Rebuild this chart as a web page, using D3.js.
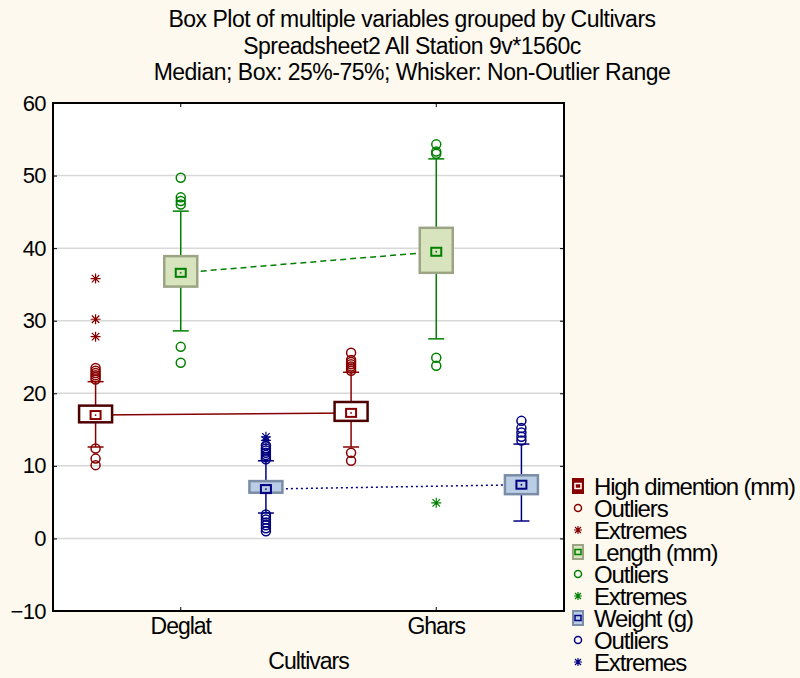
<!DOCTYPE html>
<html>
<head>
<meta charset="utf-8">
<script src="https://cdn.jsdelivr.net/npm/d3@7"></script>
<style>
  body { margin: 0; background: #fdf9ef; }
  svg { display: block; font-family: "Liberation Sans", Arial, sans-serif; }
</style>
</head>
<body>
<svg id="chart" width="800" height="678"></svg>
<script>
// groups and variables
const cultivars = ["Deglat", "Ghars"];
const variables = ["High dimention (mm)", "Length (mm)", "Weight (g)"];

// box stats, one row per variable, one value per cultivar
const medians = [[17.0, 17.3], [36.6, 39.5], [6.8, 7.4]];
const q1s = [[16.0, 16.2], [34.7, 36.6], [6.3, 6.1]];
const q3s = [[18.3, 18.8], [38.9, 42.8], [7.9, 8.7]];
const whiskLow = [[12.6, 12.6], [28.6, 27.5], [3.5, 2.4]];
const whiskHigh = [[21.6, 22.9], [45.1, 52.3], [10.7, 13.0]];

const outliers = [
  [[21.9, 22.2, 22.5, 22.8, 23.1, 23.5, 12.4, 11.0, 10.1], [23.1, 23.4, 23.7, 24.0, 24.3, 24.6, 25.6, 11.8, 10.7]],
  [[46.0, 46.5, 47.0, 49.7, 26.4, 24.2], [53.0, 53.3, 54.3, 24.9, 23.8]],
  [[10.9, 11.2, 11.5, 11.8, 12.1, 12.4, 12.8, 3.3, 3.0, 2.6, 2.2, 1.8, 1.4, 1.0], [13.5, 14.0, 14.6, 15.2, 16.2]]
];
const extremes = [
  [[27.8, 30.2, 35.8], []],
  [[], [4.9]],
  [[13.5, 14.0], []]
];

const yTicks = [-10, 0, 10, 20, 30, 40, 50, 60];
const titleLines = [
  "Box Plot of multiple variables grouped by  Cultivars",
  "Spreadsheet2 All Station 9v*1560c",
  "Median; Box: 25%-75%; Whisker: Non-Outlier Range"
];

// colours per variable
const lineColors = ["#870000", "#008000", "#000080"];
const boxFills = ["#ffffff", "#d7e4bd", "#b9cde5"];
const boxStrokes = ["#4e0000", "#9ca484", "#7a8ca6"];
const medianDash = [null, "6,4", "2,3"];

const svg = d3.select("#chart");
const plotLeft = 53, plotRight = 564, plotTop = 103, plotBottom = 611;

const x = d3.scaleBand().domain(cultivars).range([plotLeft, plotRight]);
const xSub = d3.scaleBand().domain(variables).range([0, x.bandwidth()]);
const y = d3.scaleLinear().domain([-10, 60]).range([plotBottom, plotTop]);

const cx = (ci, vi) => x(cultivars[ci]) + xSub(variables[vi]) + xSub.bandwidth() / 2;

// plot area
svg.append("rect")
  .attr("x", plotLeft).attr("y", plotTop)
  .attr("width", plotRight - plotLeft).attr("height", plotBottom - plotTop)
  .attr("fill", "#fff");

// gridlines
svg.append("g").selectAll("line")
  .data(yTicks.filter(t => t > -10 && t < 60))
  .join("line")
  .attr("x1", plotLeft).attr("x2", plotRight)
  .attr("y1", d => y(d)).attr("y2", d => y(d))
  .attr("stroke", "#d8d8d8").attr("stroke-width", 1.5);

// axes
const yAxis = svg.append("g")
  .attr("transform", `translate(${plotLeft},0)`)
  .call(d3.axisLeft(y).tickValues(yTicks).tickSize(-4).tickPadding(7).tickSizeOuter(0));
yAxis.selectAll("text")
  .style("font-size", "22px").style("letter-spacing", "-0.6px").attr("fill", "#000");

svg.append("g")
  .attr("transform", `translate(${plotRight},0)`)
  .call(d3.axisRight(y).tickValues(yTicks).tickSize(-4).tickFormat("").tickSizeOuter(0));

const xAxis = svg.append("g")
  .attr("transform", `translate(0,${plotBottom})`)
  .call(d3.axisBottom(x).tickSize(-4).tickPadding(7).tickSizeOuter(0));
xAxis.selectAll("text")
  .style("font-size", "23px").style("letter-spacing", "-1px").attr("fill", "#000");

svg.append("g")
  .attr("transform", `translate(0,${plotTop})`)
  .call(d3.axisTop(x).tickSize(-4).tickFormat("").tickSizeOuter(0));

svg.selectAll(".domain").remove();
svg.selectAll(".tick line").attr("stroke", "#000");

// frame
svg.append("rect")
  .attr("x", plotLeft).attr("y", plotTop)
  .attr("width", plotRight - plotLeft).attr("height", plotBottom - plotTop)
  .attr("fill", "none").attr("stroke", "#000").attr("stroke-width", 2);

// median connecting lines
variables.forEach((v, vi) => {
  svg.append("path")
    .datum(cultivars.map((c, ci) => [cx(ci, vi), y(medians[vi][ci])]))
    .attr("d", d3.line())
    .attr("fill", "none")
    .attr("stroke", lineColors[vi])
    .attr("stroke-width", 1.5)
    .attr("stroke-dasharray", medianDash[vi]);
});

const boxW = 33, capW = 16;

function asterisk(px, py, s) {
  return `M${px - s},${py}H${px + s}M${px},${py - s}V${py + s}` +
    `M${px - s * 0.75},${py - s * 0.75}L${px + s * 0.75},${py + s * 0.75}` +
    `M${px - s * 0.75},${py + s * 0.75}L${px + s * 0.75},${py - s * 0.75}`;
}

variables.forEach((v, vi) => {
  cultivars.forEach((c, ci) => {
    const g = svg.append("g");
    const px = cx(ci, vi);
    const col = lineColors[vi];

    // whiskers
    g.append("line")
      .attr("x1", px).attr("x2", px)
      .attr("y1", y(whiskLow[vi][ci])).attr("y2", y(whiskHigh[vi][ci]))
      .attr("stroke", col).attr("stroke-width", 1.5);
    [whiskLow[vi][ci], whiskHigh[vi][ci]].forEach(w => {
      g.append("line")
        .attr("x1", px - capW / 2).attr("x2", px + capW / 2)
        .attr("y1", y(w)).attr("y2", y(w))
        .attr("stroke", col).attr("stroke-width", 1.5);
    });

    // box
    g.append("rect")
      .attr("x", px - boxW / 2).attr("y", y(q3s[vi][ci]))
      .attr("width", boxW).attr("height", y(q1s[vi][ci]) - y(q3s[vi][ci]))
      .attr("fill", boxFills[vi]).attr("stroke", boxStrokes[vi]).attr("stroke-width", 2.5);

    // median marker with centre dot
    const my = y(medians[vi][ci]);
    g.append("rect")
      .attr("x", px - 5).attr("y", my - 4).attr("width", 10).attr("height", 8)
      .attr("fill", "none").attr("stroke", col).attr("stroke-width", 2);
    g.append("circle")
      .attr("cx", px).attr("cy", my).attr("r", 0.9).attr("fill", col);

    // outliers
    g.selectAll("circle.out")
      .data(outliers[vi][ci])
      .join("circle")
      .attr("class", "out")
      .attr("cx", px).attr("cy", d => y(d)).attr("r", 4.5)
      .attr("fill", "none").attr("stroke", col).attr("stroke-width", 1.5);

    // extremes
    g.selectAll("path.ext")
      .data(extremes[vi][ci])
      .join("path")
      .attr("class", "ext")
      .attr("d", d => asterisk(px, y(d), 5))
      .attr("stroke", col).attr("stroke-width", 1.2).attr("fill", "none");
  });
});

// title
svg.append("g").selectAll("text")
  .data(titleLines)
  .join("text")
  .attr("x", 412).attr("y", (d, i) => 27 + i * 26.5)
  .attr("text-anchor", "middle")
  .style("font-size", "23px").style("letter-spacing", "-0.5px")
  .text(d => d);

// x axis title
svg.append("text")
  .attr("x", (plotLeft + plotRight) / 2).attr("y", 669)
  .attr("text-anchor", "middle")
  .style("font-size", "23px").style("letter-spacing", "-1px")
  .text("Cultivars");

// legend
const legendItems = [];
variables.forEach((v, vi) => {
  legendItems.push({ kind: "box", vi, label: v });
  legendItems.push({ kind: "out", vi, label: "Outliers" });
  legendItems.push({ kind: "ext", vi, label: "Extremes" });
});

const legend = svg.append("g").attr("transform", "translate(578,486)");
const rows = legend.selectAll("g")
  .data(legendItems)
  .join("g")
  .attr("transform", (d, i) => `translate(0,${i * 22})`);

rows.filter(d => d.kind === "box").each(function (d) {
  const r = d3.select(this);
  r.append("rect")
    .attr("x", -5).attr("y", -7).attr("width", 10).attr("height", 14)
    .attr("fill", d.vi === 0 ? lineColors[0] : boxFills[d.vi])
    .attr("stroke", d.vi === 0 ? lineColors[0] : boxStrokes[d.vi]).attr("stroke-width", 2);
  r.append("rect")
    .attr("x", -3).attr("y", -2.5).attr("width", 6).attr("height", 5)
    .attr("fill", "none").attr("stroke", d.vi === 0 ? "#fff" : lineColors[d.vi]).attr("stroke-width", 1.5);
});
rows.filter(d => d.kind === "out").append("circle")
  .attr("r", 3.5).attr("fill", "none")
  .attr("stroke", d => lineColors[d.vi]).attr("stroke-width", 1.5);
rows.filter(d => d.kind === "ext").append("path")
  .attr("d", asterisk(0, 0, 4))
  .attr("stroke", d => lineColors[d.vi]).attr("stroke-width", 1.2).attr("fill", "none");

rows.append("text")
  .attr("x", 16).attr("y", 8.5)
  .style("font-size", "24px").style("letter-spacing", "-1.15px")
  .text(d => d.label);
</script>
</body>
</html>
